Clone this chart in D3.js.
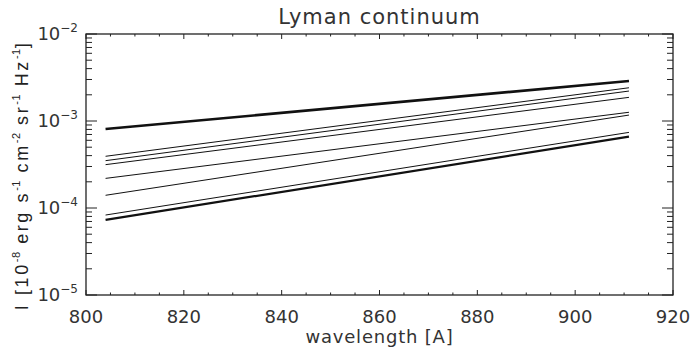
<!DOCTYPE html>
<html>
<head>
<meta charset="utf-8">
<script src="https://cdn.jsdelivr.net/npm/d3@7"></script>
<style>
  body { margin: 0; background: #fff; }
  text { fill: #333; }
  .tick-label, .title, .xlabel { font-family: "DejaVu Sans", sans-serif; font-weight: 400; }
  .ylabel { font-family: "Liberation Sans", Arial, sans-serif; fill: #222; }
</style>
</head>
<body>
<svg width="690" height="354"></svg>
<script>
const margin = { left: 86, right: 17, top: 34, bottom: 59 };

const svg = d3.select('svg');
const width = +svg.attr('width');
const height = +svg.attr('height');
const innerWidth = width - margin.left - margin.right;
const innerHeight = height - margin.top - margin.bottom;

// wavelength ends of each curve [A]
const waveStart = 804;
const waveEnd = 911;
// intensity at start / end of each curve
const startValues = [8.1e-4, 3.93e-4, 3.5e-4, 3.15e-4, 2.19e-4, 1.4e-4, 8.3e-5, 7.3e-5];
const endValues   = [2.88e-3, 2.41e-3, 2.21e-3, 1.87e-3, 1.26e-3, 1.17e-3, 7.4e-4, 6.6e-4];
const lineWidths  = [2.6, 1, 1, 1, 1, 1, 1, 2.2];

const xTicks = [800, 820, 840, 860, 880, 900, 920];
const yTicks = [1e-5, 1e-4, 1e-3, 1e-2];

const series = startValues.map((v, i) => ({
  pts: [{ w: waveStart, v: v }, { w: waveEnd, v: endValues[i] }],
  sw: lineWidths[i]
}));

const g = svg.append('g')
  .attr('transform', `translate(${margin.left}, ${margin.top})`);

const xScale = d3.scaleLinear().domain([800, 920]).range([0, innerWidth]);
const yScale = d3.scaleLog().domain([1e-5, 1e-2]).range([innerHeight, 0]);

// minor ticks
const xMinor = d3.range(800, 921, 5).filter(d => d % 20 !== 0);
const yMinor = [];
[1e-5, 1e-4, 1e-3].forEach(dec => { for (let k = 2; k <= 9; k++) yMinor.push(dec * k); });

const tickColor = '#222';

// x ticks, bottom and top, pointing inward
[[innerHeight, -1], [0, 1]].forEach(([y0, dir]) => {
  g.selectAll(null).data(xTicks).enter().append('line')
    .attr('x1', d => xScale(d)).attr('x2', d => xScale(d))
    .attr('y1', y0).attr('y2', y0 + dir * 5)
    .attr('stroke', tickColor).attr('stroke-width', 1);
  g.selectAll(null).data(xMinor).enter().append('line')
    .attr('x1', d => xScale(d)).attr('x2', d => xScale(d))
    .attr('y1', y0).attr('y2', y0 + dir * 2.5)
    .attr('stroke', tickColor).attr('stroke-width', 1);
});

// y ticks, left and right
[[0, 1], [innerWidth, -1]].forEach(([x0, dir]) => {
  g.selectAll(null).data(yTicks).enter().append('line')
    .attr('y1', d => yScale(d)).attr('y2', d => yScale(d))
    .attr('x1', x0).attr('x2', x0 + dir * 11)
    .attr('stroke', tickColor).attr('stroke-width', 1);
  g.selectAll(null).data(yMinor).enter().append('line')
    .attr('y1', d => yScale(d)).attr('y2', d => yScale(d))
    .attr('x1', x0).attr('x2', x0 + dir * 6)
    .attr('stroke', tickColor).attr('stroke-width', 1);
});

// frame
g.append('rect')
  .attr('width', innerWidth).attr('height', innerHeight)
  .attr('fill', 'none').attr('stroke', tickColor).attr('stroke-width', 1.3);

// x tick labels
g.selectAll('.xtl').data(xTicks).enter().append('text')
  .attr('class', 'tick-label')
  .attr('x', d => xScale(d)).attr('y', innerHeight + 28)
  .attr('text-anchor', 'middle').attr('font-size', 18)
  .text(d => d);

// y tick labels 10^-n
const ytl = g.selectAll('.ytl').data(yTicks).enter().append('text')
  .attr('class', 'tick-label')
  .attr('x', -8).attr('y', d => yScale(d) + 6)
  .attr('text-anchor', 'end').attr('font-size', 18);
ytl.append('tspan').text('10');
ytl.append('tspan').attr('dy', -8).attr('font-size', 12)
  .text(d => '\u2212' + Math.round(-Math.log10(d)));

// curves
const line = d3.line().x(d => xScale(d.w)).y(d => yScale(d.v));
g.selectAll('.curve').data(series).enter().append('path')
  .attr('class', 'curve')
  .attr('d', d => line(d.pts))
  .attr('fill', 'none').attr('stroke', '#111')
  .attr('stroke-width', d => d.sw);

// title
svg.append('text').attr('class', 'title')
  .attr('x', margin.left + innerWidth / 2).attr('y', 24)
  .attr('text-anchor', 'middle').attr('font-size', 21)
  .attr('letter-spacing', 1)
  .text('Lyman continuum');

// x label
svg.append('text').attr('class', 'xlabel')
  .attr('x', margin.left + innerWidth / 2).attr('y', 343)
  .attr('text-anchor', 'middle').attr('font-size', 18)
  .attr('letter-spacing', 0.8)
  .text('wavelength [A]');

// y label
const nb = '\u00a0';
const yl = svg.append('text').attr('class', 'ylabel')
  .attr('transform', `translate(28, ${margin.top + innerHeight / 2 + 11}) rotate(-90)`)
  .attr('text-anchor', 'middle').attr('font-size', 18)
  .attr('letter-spacing', 2.6);
const parts = [[`I${nb}[10`, ''], ['-8', 'sup'], [`${nb}erg${nb}s`, ''], ['-1', 'sup'],
  [`${nb}cm`, ''], ['-2', 'sup'], [`${nb}sr`, ''], ['-1', 'sup'],
  [`${nb}Hz`, ''], ['-1', 'sup'], [']', '']];
let up = false;
parts.forEach(([t, k]) => {
  const ts = yl.append('tspan').text(t);
  if (k === 'sup' && !up) { ts.attr('dy', -8).attr('font-size', 11).attr('letter-spacing', 0.5); up = true; }
  else if (k !== 'sup' && up) { ts.attr('dy', 8); up = false; }
  else if (k === 'sup') ts.attr('font-size', 11).attr('letter-spacing', 0.5);
});
</script>
</body>
</html>
